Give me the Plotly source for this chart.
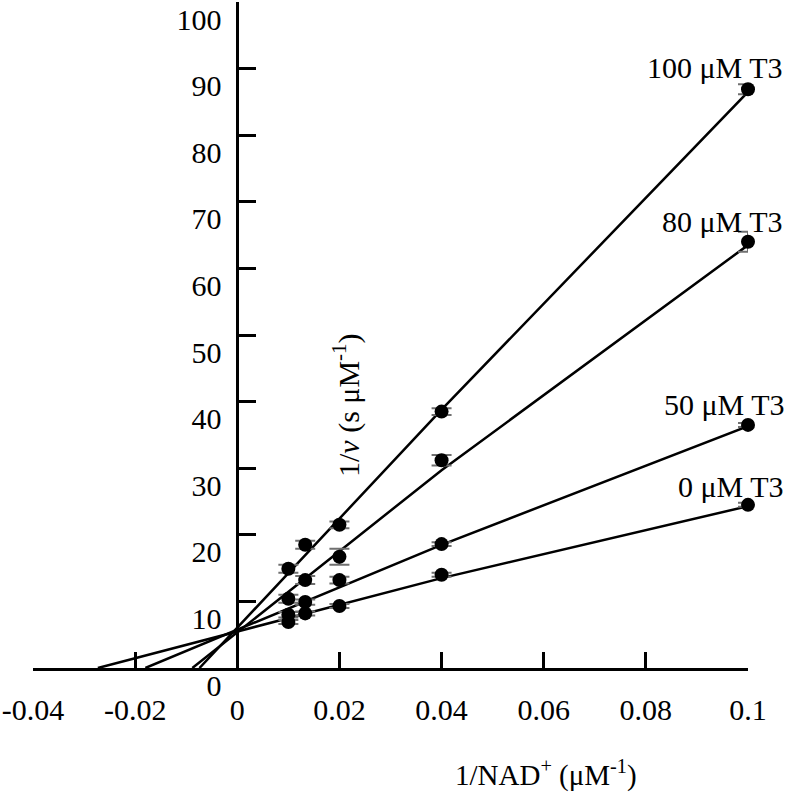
import plotly.graph_objects as go

# ---- data ----
inv_nad = [0.01, 0.0133, 0.02, 0.04, 0.1]          # 1/NAD+ (uM^-1)
series_names = ["0 μM T3", "50 μM T3", "80 μM T3", "100 μM T3"]
inv_v_0 = [6.9, 8.2, 9.3, 14.0, 24.5]
inv_v_50 = [8.0, 9.9, 13.2, 18.6, 36.5]
inv_v_80 = [10.4, 13.2, 16.7, 31.2, 64.0]
inv_v_100 = [14.9, 18.5, 21.5, 38.5, 86.9]
err_0 = [0.3, 0.3, 0.3, 0.3, 0.3]
err_50 = [0.4, 0.4, 0.5, 0.3, 0.3]
err_80 = [0.6, 0.6, 1.2, 0.8, 1.5]
err_100 = [0.6, 0.6, 0.5, 0.5, 0.75]

# fitted lines: x-intercept, mid point, end
fit_x_0 = [-0.0273, 0.04, 0.1]
fit_y_0 = [0, 13.5, 24.3]
fit_x_50 = [-0.018, 0.04, 0.1]
fit_y_50 = [0, 18.5, 36.3]
fit_x_80 = [-0.0088, 0.04, 0.1]
fit_y_80 = [0, 29.7, 63.5]
fit_x_100 = [-0.0074, 0.04, 0.1]
fit_y_100 = [0, 38.8, 86.5]

x_ticks = [-0.04, -0.02, 0, 0.02, 0.04, 0.06, 0.08, 0.1]
x_tick_text = ["-0.04", "-0.02", "0", "0.02", "0.04", "0.06", "0.08", "0.1"]
y_ticks = [0, 10, 20, 30, 40, 50, 60, 70, 80, 90, 100]

FONT = "Liberation Serif"
fig = go.Figure()

fits = [(fit_x_0, fit_y_0), (fit_x_50, fit_y_50), (fit_x_80, fit_y_80), (fit_x_100, fit_y_100)]
for fx, fy in fits:
    fig.add_trace(go.Scatter(x=fx, y=fy, mode="lines",
                             line=dict(color="black", width=2.5),
                             showlegend=False, hoverinfo="skip"))

pts = [(inv_v_0, err_0), (inv_v_50, err_50), (inv_v_80, err_80), (inv_v_100, err_100)]
for (yv, ev), name in zip(pts, series_names):
    fig.add_trace(go.Scatter(x=inv_nad, y=yv, mode="markers", name=name,
                             marker=dict(color="black", size=14),
                             error_y=dict(type="data", array=ev, visible=True,
                                          color="#707070", thickness=2, width=10),
                             cliponaxis=False, showlegend=False))

# series labels
label_pos = {"100 μM T3": (0.0799, 90.2), "80 μM T3": (0.0828, 67.0),
             "50 μM T3": (0.0832, 39.5), "0 μM T3": (0.0859, 27.2)}
for name in series_names:
    lx, ly = label_pos[name]
    fig.add_annotation(x=lx, y=ly, text=name, showarrow=False,
                       xanchor="left", yanchor="middle",
                       font=dict(family=FONT, size=30, color="black"))

# axis titles
fig.add_annotation(x=0.0605, xref="x", y=-0.158, yref="paper",
                   text="1/NAD<sup>+</sup> (μM<sup>-1</sup>)",
                   showarrow=False, xanchor="center", yanchor="middle",
                   font=dict(family=FONT, size=29, color="black"))
fig.add_annotation(x=0.0215, y=39.5, text="1/<i>v</i> (s μM<sup>-1</sup>)",
                   showarrow=False, textangle=-90, xanchor="center", yanchor="middle",
                   font=dict(family=FONT, size=30, color="black"))

fig.update_layout(
    width=792, height=796,
    margin=dict(l=33, r=44, t=2, b=128, autoexpand=False),
    paper_bgcolor="white", plot_bgcolor="white",
    font=dict(family=FONT, size=30, color="black"),
    xaxis=dict(range=[-0.04, 0.1], showgrid=False, zeroline=False, automargin=False,
               showline=True, linecolor="black", linewidth=2.5,
               ticks="inside", ticklen=16, tickwidth=2.5, tickcolor="black",
               tickvals=x_ticks, ticktext=x_tick_text, ticklabelstandoff=13,
               tickfont=dict(family=FONT, size=30, color="black")),
    yaxis=dict(range=[0, 100], showgrid=False, zeroline=False, automargin=False,
               anchor="free", position=(0 - (-0.04)) / 0.14,
               showline=True, linecolor="black", linewidth=2.5,
               ticks="inside", ticklen=17, tickwidth=2.5, tickcolor="black",
               tickvals=y_ticks, ticklabelshift=17, ticklabelstandoff=9,
               tickfont=dict(family=FONT, size=30, color="black")),
)

fig.write_html("out.html", config={"displayModeBar": False},
               post_script="document.body.style.margin='0';document.body.style.overflow='hidden';")
